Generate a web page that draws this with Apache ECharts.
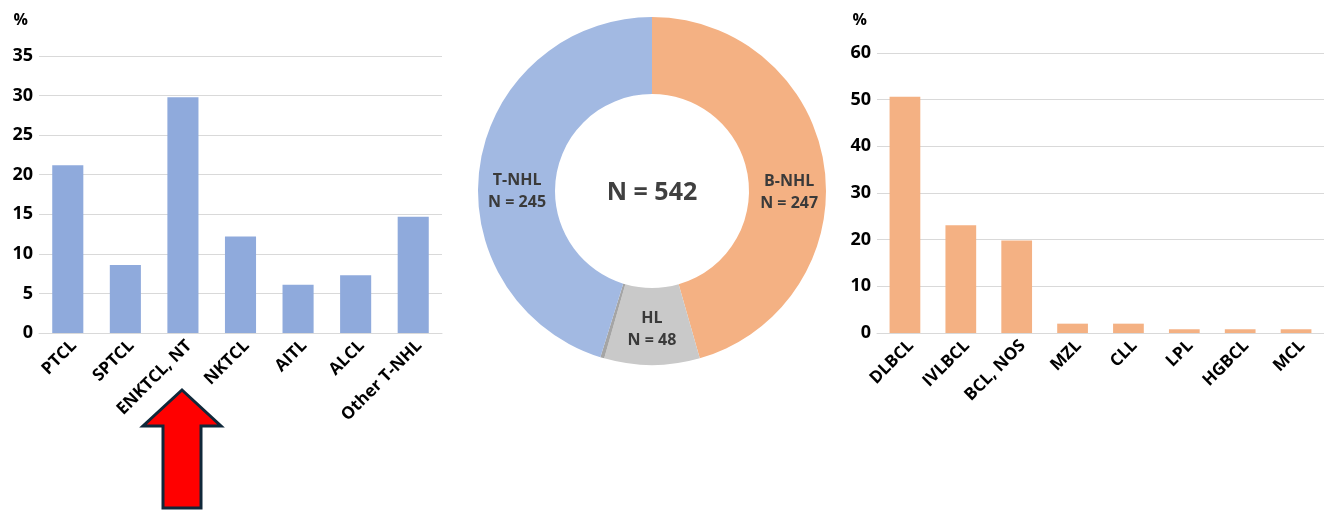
<!DOCTYPE html>
<html>
<head>
<meta charset="utf-8">
<script src="https://cdn.jsdelivr.net/npm/echarts@6/dist/echarts.min.js"></script>
<style>
  html, body { margin: 0; padding: 0; background: #ffffff; }
  #chart { width: 1324px; height: 510px; }
</style>
</head>
<body>
<div id="chart"></div>
<script>
// T-cell lymphoma subtypes (% of T-NHL)
const tCategories = ['PTCL', 'SPTCL', 'ENKTCL, NT', 'NKTCL', 'AITL', 'ALCL', 'Other T-NHL'];
const tValues = [21.2, 8.6, 29.8, 12.2, 6.1, 7.3, 14.7];

// B-cell lymphoma subtypes (% of B-NHL)
const bCategories = ['DLBCL', 'IVLBCL', 'BCL, NOS', 'MZL', 'CLL', 'LPL', 'HGBCL', 'MCL'];
const bValues = [50.6, 23.1, 19.8, 2.0, 2.0, 0.8, 0.8, 0.8];

// Overall cohort split (counts), clockwise from 12 o'clock
const groupNames = ['B-NHL', 'HL', 'Other', 'T-NHL'];
const groupCounts = [247, 48, 2, 245];
const groupLabelled = [true, true, false, true];

const leftTicks = { min: 0, max: 35, interval: 5 };
const rightTicks = { min: 0, max: 60, interval: 10 };

const FONT = '"Open Sans", Lato, sans-serif';
const BLUE_BAR = '#8faadc';
const ORANGE_BAR = '#f4b183';
const GRID_LINE = '#d9d9d9';

const total = groupCounts.reduce((a, b) => a + b, 0);

const axisLabelY = { color: '#000', fontFamily: FONT, fontWeight: 'bold', fontSize: 18, margin: 6 };
const axisLabelX = {
  color: '#000', fontFamily: FONT, fontWeight: 'bold', fontSize: 17,
  rotate: 45, margin: 4, interval: 0, verticalAlign: 'top'
};
const axisName = { color: '#000', fontFamily: FONT, fontWeight: 'bold', fontSize: 16, align: 'right' };

const chart = echarts.init(document.getElementById('chart'), null, { renderer: 'canvas' });

const sliceColors = {
  'B-NHL': '#f4b183',
  'HL': '#c9c9c9',
  'Other': '#a5a5a5',
  'T-NHL': '#a2b9e2'
};

chart.setOption({
  animation: false,
  backgroundColor: '#ffffff',
  grid: [
    { left: 39, width: 403, top: 56, bottom: 177 },
    { left: 877, right: -17, top: 53, bottom: 177 }
  ],
  xAxis: [
    {
      gridIndex: 0, type: 'category', data: tCategories,
      axisLine: { lineStyle: { color: GRID_LINE, width: 1 } },
      axisTick: { show: false },
      axisLabel: axisLabelX
    },
    {
      gridIndex: 1, type: 'category', data: bCategories,
      axisLine: { lineStyle: { color: GRID_LINE, width: 1 } },
      axisTick: { show: false },
      axisLabel: axisLabelX
    }
  ],
  yAxis: [
    {
      gridIndex: 0, type: 'value', min: leftTicks.min, max: leftTicks.max, interval: leftTicks.interval,
      name: '%', nameLocation: 'end', nameGap: 28,
      nameTextStyle: Object.assign({ padding: [0, 11, 0, 0] }, axisName),
      axisLine: { show: false }, axisTick: { show: false },
      splitLine: { lineStyle: { color: GRID_LINE, width: 1 } },
      axisLabel: axisLabelY
    },
    {
      gridIndex: 1, type: 'value', min: rightTicks.min, max: rightTicks.max, interval: rightTicks.interval,
      name: '%', nameLocation: 'end', nameGap: 25,
      nameTextStyle: Object.assign({ padding: [0, 10, 0, 0] }, axisName),
      axisLine: { show: false }, axisTick: { show: false },
      splitLine: { lineStyle: { color: GRID_LINE, width: 1 } },
      axisLabel: axisLabelY
    }
  ],
  series: [
    {
      type: 'bar', xAxisIndex: 0, yAxisIndex: 0, data: tValues,
      barWidth: '54%', itemStyle: { color: BLUE_BAR }
    },
    {
      type: 'bar', xAxisIndex: 1, yAxisIndex: 1, data: bValues,
      barWidth: '55%', itemStyle: { color: ORANGE_BAR }
    },
    {
      type: 'pie',
      center: [652, 191],
      radius: [97, 174],
      startAngle: 90,
      clockwise: true,
      avoidLabelOverlap: false,
      emphasis: { disabled: true },
      itemStyle: { borderWidth: 0 },
      label: {
        position: 'inside',
        color: '#3a3a3a', fontFamily: FONT, fontWeight: 'bold', fontSize: 16, lineHeight: 22,
        formatter: p => p.name + '\nN = ' + p.value
      },
      labelLine: { show: false },
      data: groupNames.map((n, i) => {
        const item = { name: n, value: groupCounts[i], itemStyle: { color: sliceColors[n] } };
        if (!groupLabelled[i]) item.label = { show: false };
        else if (n === 'B-NHL') item.label = { offset: [0, 21] };
        else if (n === 'T-NHL') item.label = { offset: [2, 21] };
        return item;
      })
    }
  ],
  graphic: [
    {
      type: 'text',
      x: 652, y: 193,
      style: {
        text: 'N = ' + total,
        fill: '#404040', font: 'bold 25px ' + FONT,
        align: 'center', verticalAlign: 'middle'
      }
    },
    {
      type: 'polygon',
      shape: {
        points: [[182, 390], [221, 426], [201, 426], [201, 508], [163, 508], [163, 426], [143, 426]]
      },
      style: { fill: '#ff0000', stroke: '#10283a', lineWidth: 3, lineJoin: 'miter' }
    }
  ]
});
</script>
</body>
</html>
